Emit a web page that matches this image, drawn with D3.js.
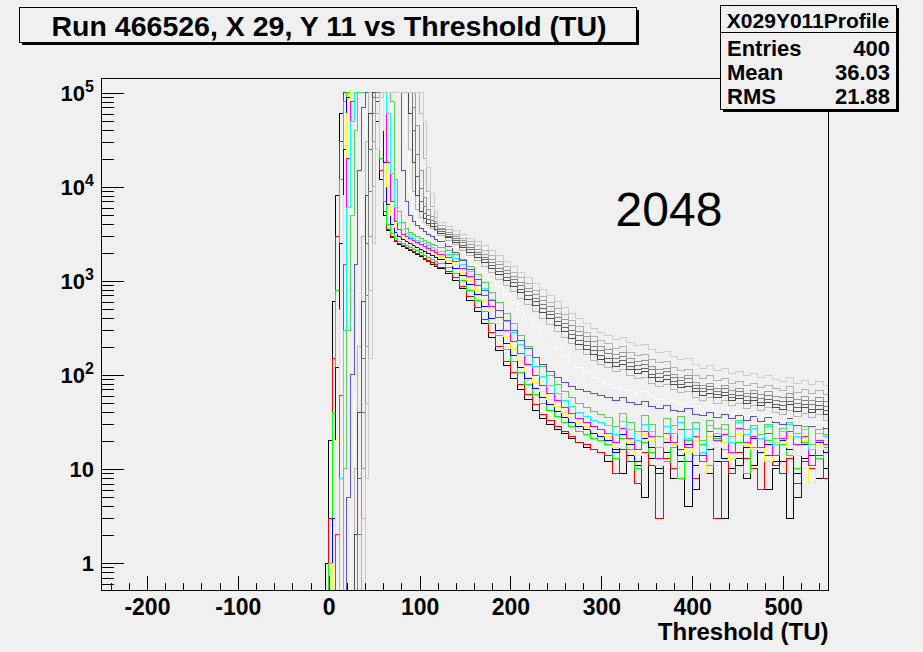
<!DOCTYPE html>
<html>
<head>
<meta charset="utf-8">
<script src="https://cdn.jsdelivr.net/npm/d3@7"></script>
<style>
body { margin: 0; background: #f0f0f0; }
svg text { font-family: "Liberation Sans", Arial, sans-serif; font-weight: bold; fill: #000; }
</style>
</head>
<body>
<svg id="chart" width="923" height="652"></svg>
<script>
// bin edges (TU): 4 TU wide up to 120, 8 TU wide above
var binEdges = d3.range(-8, 120, 4).concat(d3.range(120, 553, 8));

// one histogram per colour, counts per bin
var h01 = [0,1,20,600,8000,60000,1e5,1e5,1e5,1e5,1e5,1e5,1e5,1e5,1e5,50000,12000,5000,3400,2900,2600,2450,2300,2200,2100,2000,1900,1800,1700,1600,1500,1420,
  1350,1200,1000,820,620,470,350,250,180,125,92,70,55,42,34,30,26,24,21,19,17,16,15,
  12,16,9,14,11,5,13,10,15,8,12,4,11,14,9,12,3,10,13,8,11,15,6,10,12,3,9,13,11,8,10];
var h02 = [0,0,3,150,3000,30000,1e5,1e5,1e5,1e5,1e5,1e5,1e5,1e5,1e5,80000,15000,5500,3500,3000,2700,2500,2350,2250,2150,2050,1950,1850,1750,1650,1560,1480,
  1400,1260,1080,880,680,520,390,280,200,140,105,80,62,48,38,33,28,25,22,19,18,16,15,
  14,9,16,12,7,15,11,3,13,10,16,12,8,14,11,3,12,9,15,13,10,6,14,11,9,13,7,12,10,14,8];
var h03 = [0,0,1,40,800,12000,80000,1e5,1e5,1e5,1e5,1e5,1e5,1e5,1e5,1e5,20000,7000,4000,3200,2850,2650,2500,2380,2280,2180,2080,1980,1880,1780,1690,1600,
  1520,1380,1200,1000,800,620,470,350,260,185,140,105,80,62,50,42,36,31,28,25,23,21,20,
  18,13,21,16,10,19,15,22,12,17,8,20,14,18,11,21,16,13,19,9,17,15,20,12,18,14,10,19,16,13,17];
var h04 = [0,0,0,3,120,2500,25000,90000,1e5,1e5,1e5,1e5,1e5,1e5,1e5,1e5,1e5,18000,6500,4000,3300,2950,2750,2600,2480,2370,2260,2150,2050,1950,1850,1760,
  1680,1530,1340,1130,910,710,540,400,300,215,160,120,92,72,58,48,41,35,31,28,26,24,22,
  20,15,23,18,12,21,17,9,19,24,14,18,6,20,16,22,13,19,11,17,21,15,18,12,20,16,5,18,14,19,15];
var h05 = [0,0,0,1,20,500,8000,60000,1e5,1e5,1e5,1e5,1e5,1e5,1e5,1e5,1e5,40000,10000,5000,3700,3200,2950,2780,2640,2520,2400,2290,2180,2080,1980,1890,
  1800,1650,1460,1240,1010,800,620,470,350,255,190,142,108,84,67,55,46,40,35,31,28,26,24,
  22,17,25,19,14,23,20,11,21,18,24,15,20,9,22,17,19,13,23,18,16,21,12,19,17,22,14,20,7,18,16];
var h06 = [0,0,0,0,2,60,1500,20000,80000,1e5,1e5,1e5,1e5,1e5,1e5,1e5,1e5,1e5,18000,7000,4300,3500,3150,2950,2800,2670,2550,2430,2320,2210,2110,2020,
  1930,1780,1590,1360,1120,900,700,540,405,300,225,168,128,98,78,63,53,45,39,34,31,28,26,
  24,19,27,21,16,25,22,13,24,19,26,17,22,12,25,20,23,15,27,19,22,17,24,14,21,25,18,22,11,20,18];
var h07 = [0,0,0,0,0,8,300,6000,50000,1e5,1e5,1e5,1e5,1e5,1e5,1e5,1e5,1e5,60000,14000,6000,4200,3500,3200,3000,2850,2720,2600,2480,2370,2260,2160,
  2070,1920,1730,1500,1260,1030,820,640,490,370,280,210,160,123,97,78,64,54,46,40,36,33,31,
  29,23,32,26,20,30,25,17,28,24,31,21,27,15,29,24,26,19,31,23,27,21,28,18,25,30,22,26,16,24,22];
var h08 = [0,0,0,0,0,0,10,300,5000,40000,1e5,1e5,1e5,1e5,1e5,1e5,1e5,1e5,1e5,80000,12000,5500,4200,3600,3300,3100,2950,2800,2680,2560,2450,2350,
  2250,2100,1900,1670,1420,1180,960,760,590,455,350,265,202,155,122,98,80,67,57,50,45,41,38,
  35,28,39,31,25,37,30,22,34,29,36,26,31,20,33,27,30,22,33,26,29,23,30,21,27,31,24,28,18,26,23];
var h09 = [0,0,0,0,0,0,0,5,100,1500,15000,70000,1e5,1e5,1e5,1e5,1e5,1e5,1e5,1e5,1e5,1e5,15000,7000,5000,4300,3900,3600,3350,3150,2950,2780,
  2620,2330,2000,1650,1320,1040,800,620,480,375,295,235,190,155,128,108,94,84,76,70,66,63,61,
  58,53,57,51,48,52,46,44,47,42,41,44,38,37,40,35,38,34,37,33,36,32,35,31,30,34,29,32,28,31,27];
var h10 = [0,0,0,0,0,0,0,0,3,60,800,8000,50000,1e5,1e5,1e5,1e5,1e5,1e5,1e5,1e5,1e5,1e5,30000,9000,5500,4500,4000,3700,3450,3250,3080,
  2900,2580,2270,1980,1710,1460,1240,1040,870,720,595,490,402,330,272,226,189,160,137,119,105,94,86,
  80,72,76,68,63,66,59,55,57,52,49,51,46,43,46,41,43,39,41,37,39,35,37,33,32,35,30,32,29,31,28];
var h11 = [0,0,0,0,0,0,0,0,0,10,200,3000,30000,1e5,1e5,1e5,1e5,1e5,1e5,1e5,1e5,1e5,1e5,1e5,25000,9000,5800,4700,4200,3850,3600,3400,
  3050,2720,2410,2130,1870,1630,1410,1220,1045,895,765,652,555,472,402,343,293,251,216,187,163,144,128,
  120,108,113,99,91,94,82,76,79,70,65,67,58,54,57,50,53,47,50,44,47,42,45,40,38,42,36,39,35,38,33];
var h12 = [0,0,0,0,0,0,0,0,0,2,40,600,8000,60000,1e5,1e5,1e5,1e5,1e5,1e5,1e5,1e5,1e5,1e5,60000,18000,8000,5500,4600,4100,3800,3550,
  3200,2870,2560,2280,2020,1780,1560,1360,1180,1020,875,750,640,545,463,394,336,287,246,213,186,164,146,
  137,123,130,113,104,108,93,86,90,79,73,76,66,61,64,57,60,53,56,50,53,47,51,45,43,48,41,45,40,43,38];
var h13 = [0,0,0,0,0,0,0,0,0,0,8,150,2500,25000,90000,1e5,1e5,1e5,1e5,1e5,1e5,1e5,1e5,1e5,1e5,40000,13000,7000,5200,4500,4100,3800,
  3350,3000,2690,2400,2140,1900,1670,1460,1270,1100,950,815,700,598,510,435,370,316,272,235,205,180,160,
  150,135,142,124,114,118,102,94,98,86,80,83,71,66,70,62,65,57,61,54,58,51,55,49,47,52,45,49,43,47,42];
var h14 = [0,0,0,0,0,0,0,0,0,0,2,40,700,9000,60000,1e5,1e5,1e5,1e5,1e5,1e5,1e5,1e5,1e5,1e5,70000,22000,9500,6200,5000,4400,4050,
  3500,3150,2830,2540,2270,2020,1790,1570,1370,1190,1030,890,765,655,560,478,408,350,300,260,228,200,180,
  168,150,157,137,126,130,113,104,108,94,88,91,78,72,76,67,71,62,66,59,63,56,60,54,52,57,50,54,48,52,46];
var h15 = [0,0,0,0,0,0,0,0,0,0,0,10,200,3000,30000,90000,1e5,1e5,1e5,1e5,1e5,1e5,1e5,1e5,1e5,1e5,45000,15000,7800,5700,4800,4300,
  3650,3300,2980,2680,2420,2170,1930,1700,1480,1290,1120,970,835,720,620,530,455,390,335,290,255,225,200,
  185,165,172,150,138,142,123,114,118,102,95,98,84,78,82,72,77,68,72,64,69,62,66,59,57,63,55,59,53,57,52];
var h16 = [0,0,0,0,0,0,0,0,0,0,0,3,50,800,10000,60000,1e5,1e5,1e5,1e5,1e5,1e5,1e5,1e5,1e5,1e5,1e5,60000,20000,9000,6200,4700,
  3900,3500,3150,2850,2600,2350,2100,1850,1620,1420,1240,1080,930,800,690,590,505,435,375,325,285,255,230,
  215,192,200,175,162,166,145,134,138,120,112,115,99,92,98,87,92,81,86,77,82,74,78,71,68,75,65,70,63,68,62];
var h17 = [0,0,0,0,0,0,0,0,0,0,0,0,8,150,2500,25000,90000,1e5,1e5,1e5,1e5,1e5,1e5,1e5,1e5,1e5,1e5,1e5,50000,16000,8500,5500,
  4200,3800,3400,3100,2850,2600,2350,2100,1850,1620,1420,1240,1080,940,810,700,600,520,450,395,350,315,285,
  265,240,250,222,205,212,188,172,178,156,146,150,128,118,126,112,118,104,110,98,104,94,99,90,86,94,82,88,80,85,78];

var seriesValues = [h01, h02, h03, h04, h05, h06, h07, h08, h09, h10, h11, h12, h13, h14, h15, h16, h17];
var seriesColors = ["#000000", "#ff0000", "#00ff00", "#0000ff", "#ffff00", "#ff00ff", "#00ffff", "#59d454",
  "#5954d9", "#ffffff", "#c0b6ac", "#4c4c4c", "#666666", "#7f7f7f", "#999999", "#b2b2b2", "#cccccc"];

var xMajorTicks = [-200, -100, 0, 100, 200, 300, 400, 500];
var yDecades = [1, 10, 100, 1000, 10000, 100000];
var titleText = "Run 466526, X 29, Y 11 vs Threshold (TU)";
var xTitle = "Threshold (TU)";
var statsName = "X029Y011Profile";
var statsRows = [["Entries", "400"], ["Mean", "36.03"], ["RMS", "21.88"]];
var noteText = "2048";

var bg = "#f0f0f0";
var svg = d3.select("#chart");
svg.append("rect").attr("width", 923).attr("height", 652).attr("fill", bg);

var frame = {left: 101.5, right: 828.5, top: 78.5, bottom: 590.5};
var yMin = 0.51;
var x = d3.scaleLinear().domain([-250, 550]).range([frame.left, frame.right]);
var y = d3.scaleLog().domain([yMin, 1.42e5]).range([frame.bottom, frame.top]);

svg.append("clipPath").attr("id", "frameClip")
  .append("rect")
  .attr("x", frame.left).attr("y", frame.top)
  .attr("width", frame.right - frame.left).attr("height", frame.bottom - frame.top);

// histograms as step lines
var line = d3.line()
  .x(function(d){ return x(d[0]); })
  .y(function(d){ return y(Math.max(d[1], yMin)); });

function stepPoints(vals){
  var pts = [];
  vals.forEach(function(v, i){
    pts.push([binEdges[i], v]);
    pts.push([binEdges[i + 1], v]);
  });
  return pts;
}

var plot = svg.append("g").attr("clip-path", "url(#frameClip)");
seriesValues.forEach(function(vals, i){
  plot.append("path")
    .attr("d", line(stepPoints(vals)))
    .attr("fill", "none")
    .attr("stroke", seriesColors[i])
    .attr("stroke-width", 1)
    .attr("shape-rendering", "crispEdges");
});

// frame
svg.append("rect")
  .attr("x", frame.left).attr("y", frame.top)
  .attr("width", frame.right - frame.left).attr("height", frame.bottom - frame.top)
  .attr("fill", "none").attr("stroke", "#000").attr("stroke-width", 1)
  .attr("shape-rendering", "crispEdges");

// x axis (ticks point inwards)
var xMinor = d3.range(-240, 551, 20).filter(function(v){ return xMajorTicks.indexOf(v) < 0; });
var gxMinor = svg.append("g").attr("transform", "translate(0," + frame.bottom + ")")
  .call(d3.axisBottom(x).tickValues(xMinor).tickSizeInner(-8).tickSizeOuter(0).tickFormat(""));
var gx = svg.append("g").attr("transform", "translate(0," + frame.bottom + ")")
  .call(d3.axisBottom(x).tickValues(xMajorTicks).tickSizeInner(-15).tickSizeOuter(0)
    .tickFormat(function(d){ return String(d); }));
gx.selectAll("text")
  .attr("y", 24).attr("dy", null)
  .attr("font-size", 23).attr("font-family", null);

// y axis (log)
var yMinor = [];
[0.1, 1, 10, 100, 1000, 10000, 100000].forEach(function(d){
  for (var k = 2; k <= 9; k++) {
    var v = d * k;
    if (v >= yMin && v <= 1.42e5) yMinor.push(v);
  }
});
var gyMinor = svg.append("g").attr("transform", "translate(" + frame.left + ",0)")
  .call(d3.axisLeft(y).tickValues(yMinor).tickSizeInner(-12).tickSizeOuter(0).tickFormat(""));
var gy = svg.append("g").attr("transform", "translate(" + frame.left + ",0)")
  .call(d3.axisLeft(y).tickValues(yDecades).tickSizeInner(-22).tickSizeOuter(0).tickFormat(""));

[gxMinor, gx, gyMinor, gy].forEach(function(g){
  g.select(".domain").remove();
  g.selectAll("line").attr("stroke", "#000").attr("shape-rendering", "crispEdges");
});

yDecades.forEach(function(v){
  var t = svg.append("text")
    .attr("x", 94).attr("y", y(v) + 8)
    .attr("text-anchor", "end")
    .attr("font-size", 22);
  if (v === 1) t.text("1");
  else if (v === 10) t.text("10");
  else {
    t.append("tspan").text("10");
    t.append("tspan").attr("dy", -9).attr("font-size", 16).text(Math.round(Math.log10(v)));
  }
});

svg.append("text")
  .attr("x", frame.right).attr("y", 640)
  .attr("text-anchor", "end")
  .attr("font-size", 24)
  .text(xTitle);

// big label
svg.append("text")
  .attr("x", 669).attr("y", 226)
  .attr("text-anchor", "middle")
  .attr("font-size", 48)
  .style("font-weight", "normal")
  .text(noteText);

// title box with shadow
function shadowBox(x0, y0, w, h){
  svg.append("rect").attr("x", x0 + 2).attr("y", y0 + 2).attr("width", w).attr("height", h)
    .attr("fill", "#000").attr("shape-rendering", "crispEdges");
  svg.append("rect").attr("x", x0).attr("y", y0).attr("width", w).attr("height", h)
    .attr("fill", bg).attr("stroke", "#000").attr("stroke-width", 1)
    .attr("shape-rendering", "crispEdges");
}

shadowBox(19.5, 7.5, 617, 35);
svg.append("text")
  .attr("x", 329).attr("y", 36)
  .attr("text-anchor", "middle")
  .attr("font-size", 28.5)
  .text(titleText);

// stats box
shadowBox(720.5, 5.5, 176, 104);
svg.append("line")
  .attr("x1", 720.5).attr("x2", 896.5).attr("y1", 32.5).attr("y2", 32.5)
  .attr("stroke", "#000").attr("shape-rendering", "crispEdges");
svg.append("text")
  .attr("x", 808).attr("y", 28)
  .attr("text-anchor", "middle")
  .attr("font-size", 21)
  .text(statsName);
statsRows.forEach(function(r, i){
  var by = 56 + i * 24;
  svg.append("text").attr("x", 727).attr("y", by).attr("font-size", 22).text(r[0]);
  svg.append("text").attr("x", 890).attr("y", by).attr("text-anchor", "end").attr("font-size", 22).text(r[1]);
});
</script>
</body>
</html>
